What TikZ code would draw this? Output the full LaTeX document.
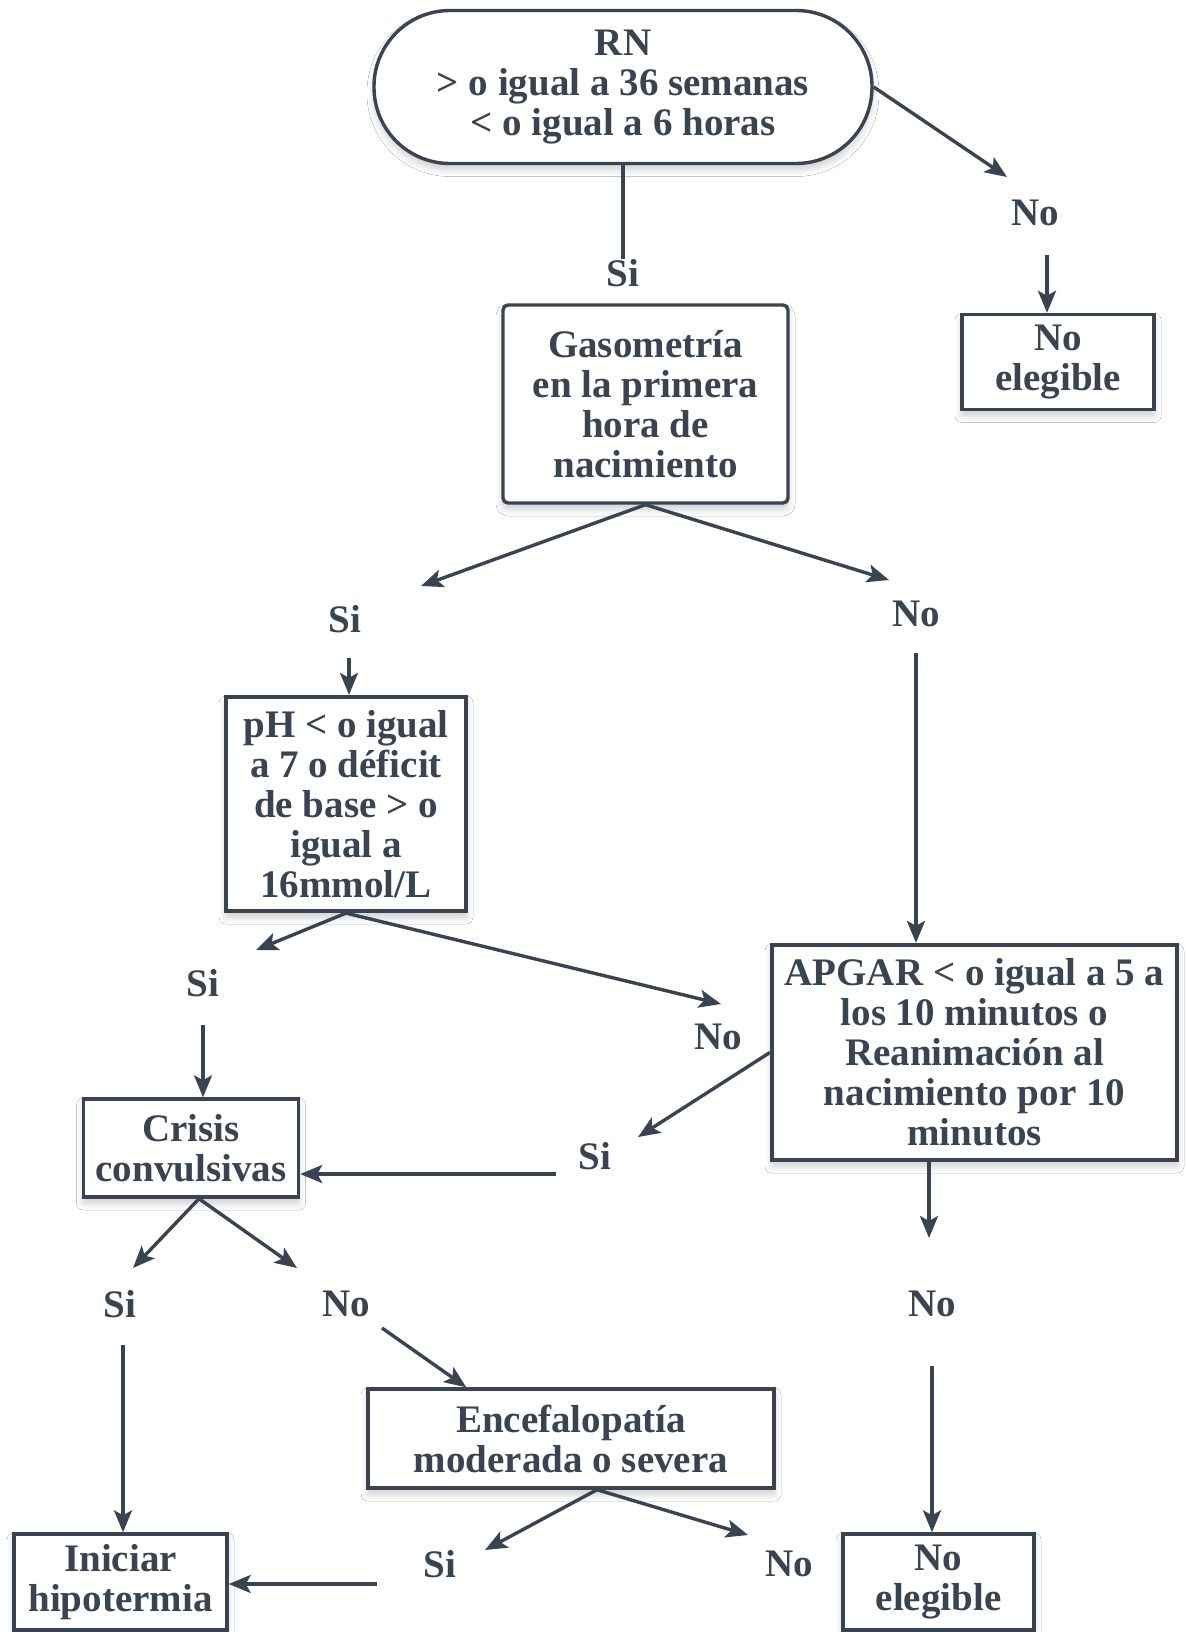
\documentclass[tikz,border=0pt]{standalone}
\usepackage{fontspec}
\setmainfont{Liberation Serif}
\usetikzlibrary{arrows.meta,shadows.blur,calc}
\definecolor{ink}{HTML}{3A4450}

\tikzset{
  txt/.style={font=\bfseries\fontsize{19.5}{20}\selectfont, text=ink, align=center, inner sep=0pt},
  box/.style={txt, draw=ink, line width=1.7pt, fill=white,
    blur shadow={shadow xshift=0pt, shadow yshift=-3pt, shadow blur steps=6, shadow blur radius=3.5pt, shadow opacity=20}},
  heavy box/.style={box, line width=2.1pt},
  lbl/.style={txt},
  arr/.style={draw=ink, line width=1.7pt, -{Stealth[length=11pt,width=9pt,inset=2.5pt]}},
  link/.style={draw=ink, line width=1.7pt},
}

\begin{document}
\begin{tikzpicture}[x=0.5pt,y=-0.5pt]
\useasboundingbox (0,0) rectangle (1185,1632);
\fill[white] (0,0) rectangle (1185,1632);

% ---------- boxes ----------
\node[box, rounded corners=38pt, minimum width=249pt, minimum height=76.5pt] (rn) at (623,87)
  {RN\\> o igual a 36 semanas\\< o igual a 6 horas};
\node[box, rounded corners=2.5pt, minimum width=142.5pt, minimum height=99pt] (gas) at (645.5,404)
  {Gasometría\\en la primera\\hora de\\nacimiento};
\node[box, minimum width=96pt, minimum height=47.5pt] (ne1) at (1058,362) {No\\elegible};
\node[heavy box, minimum width=120pt, minimum height=107pt] (ph) at (346,804)
  {pH < o igual\\a 7 o déficit\\de base > o\\igual a\\16mmol/L};
\node[heavy box, minimum width=202.5pt, minimum height=107.5pt] (apgar) at (974.5,1052.5)
  {APGAR < o igual a 5 a\\los 10 minutos o\\Reanimación al\\nacimiento por 10\\minutos};
\node[box, minimum width=107.5pt, minimum height=49pt] (crisis) at (191,1148) {Crisis\\convulsivas};
\node[box, minimum width=203pt, minimum height=49.5pt] (encef) at (571,1438.5)
  {Encefalopatía\\moderada o severa};
\node[box, minimum width=106.5pt, minimum height=48pt] (ini) at (120.5,1582) {Iniciar\\hipotermia};
\node[box, minimum width=95.5pt, minimum height=48pt] (ne2) at (938.5,1582) {No\\elegible};

% ---------- branch labels ----------
\node[lbl] (siA) at (623,273) {Si};
\node[lbl] (noA) at (1035,213) {No};
\node[lbl] (siB) at (345,619) {Si};
\node[lbl] (noB) at (916,614) {No};
\node[lbl] (siC) at (203,983) {Si};
\node[lbl] (noC) at (718,1037) {No};
\node[lbl] (siD) at (595,1156) {Si};
\node[lbl] (noD) at (932,1304) {No};
\node[lbl] (siE) at (120,1304) {Si};
\node[lbl] (noE) at (346,1304) {No};
\node[lbl] (siF) at (440,1564) {Si};
\node[lbl] (noF) at (789,1564) {No};

% ---------- connector end points ----------
\coordinate (tA) at (1007,177);
\coordinate (sA) at (1047,255);
\coordinate (tB1) at (421,586);
\coordinate (tB2) at (889,580);
\coordinate (sB1) at (349,658);
\coordinate (sB2) at (916,653);
\coordinate (tC1) at (256,950);
\coordinate (tC2) at (721,1004);
\coordinate (sC1) at (203,1025);
\coordinate (tD) at (638,1137);
\coordinate (sD) at (556,1174);
\coordinate (tX) at (929,1238);
\coordinate (sX) at (932,1366);
\coordinate (jE) at ($(crisis.south)+(8,0)$);
\coordinate (tE1) at (133,1268);
\coordinate (tE2) at (297,1268);
\coordinate (sE1) at (123,1345);
\coordinate (sE2) at (382,1328);
\coordinate (tE3) at ($(encef.north west)+(100,0)$);
\coordinate (jF) at ($(encef.south)+(26,0)$);
\coordinate (tF1) at (485,1550);
\coordinate (tF2) at (748,1535);
\coordinate (sF) at (377,1584);

% ---------- connectors ----------
\draw[link] (rn.south) -- (siA.north);
\draw[arr] (rn.east) -- (tA);
\draw[arr] (sA) -- (sA |- ne1.north);

\draw[arr] (gas.south) -- (tB1);
\draw[arr] (gas.south) -- (tB2);
\draw[arr] (sB1) -- (sB1 |- ph.north);
\draw[arr] (sB2) -- (sB2 |- apgar.north);

\draw[arr] (ph.south) -- (tC1);
\draw[arr] (ph.south) -- (tC2);
\draw[arr] (sC1) -- (sC1 |- crisis.north);

\draw[arr] (apgar.west) -- (tD);
\draw[arr] (sD) -- (sD -| crisis.east);
\draw[arr] (tX |- apgar.south) -- (tX);
\draw[arr] (sX) -- (sX |- ne2.north);

\draw[arr] (jE) -- (tE1);
\draw[arr] (jE) -- (tE2);
\draw[arr] (sE1) -- (sE1 |- ini.north);
\draw[arr] (sE2) -- (tE3);

\draw[arr] (jF) -- (tF1);
\draw[arr] (jF) -- (tF2);
\draw[arr] (sF) -- (sF -| ini.east);
\end{tikzpicture}
\end{document}
